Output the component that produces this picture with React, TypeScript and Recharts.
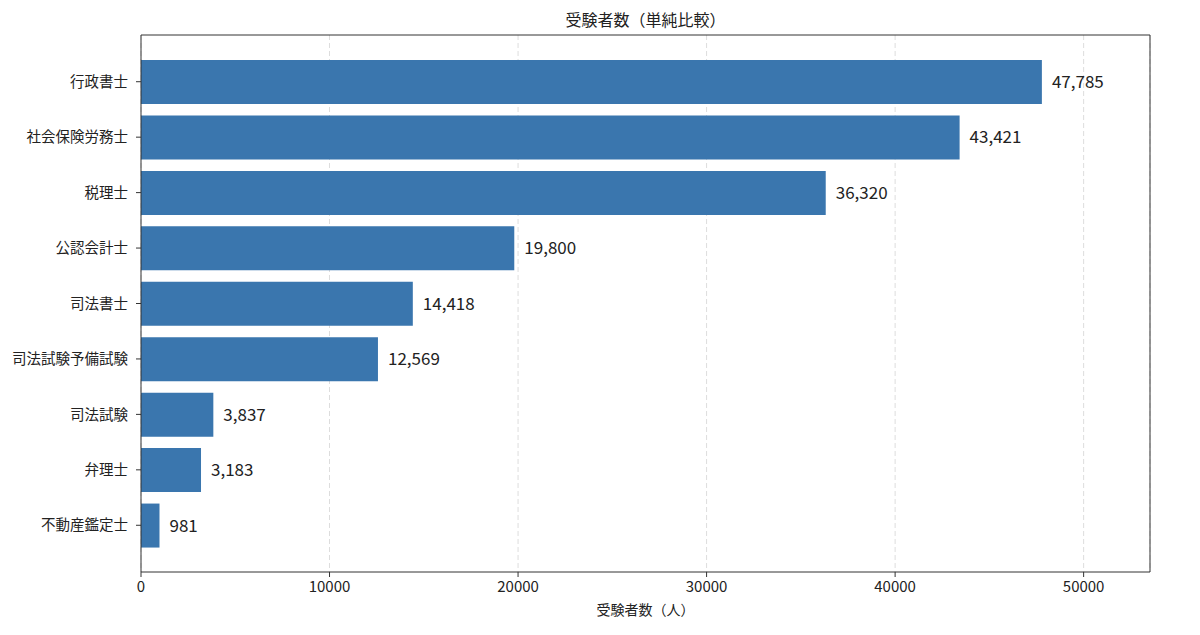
import React from 'react';
import { BarChart, Bar, XAxis, YAxis, CartesianGrid, LabelList } from 'recharts';

const categories = ['行政書士', '社会保険労務士', '税理士', '公認会計士', '司法書士', '司法試験予備試験', '司法試験', '弁理士', '不動産鑑定士'];
const examinees = [47785, 43421, 36320, 19800, 14418, 12569, 3837, 3183, 981];
const xTicks = [0, 10000, 20000, 30000, 40000, 50000];

const data = categories.map((name, i) => ({ name, value: examinees[i] }));

const FONT = '"Noto Sans CJK JP", "Noto Sans", sans-serif';
const AXIS = '#333';

const App = () => {
  return (
    <div style={{ width: 1184, height: 620, fontFamily: FONT }}>
      <BarChart
        width={1184}
        height={620}
        data={data}
        layout="vertical"
        margin={{ top: 0, right: 41, left: 0, bottom: 0 }}
      >
        <CartesianGrid horizontal={false} stroke="#dddddd" strokeDasharray="5 3" />
        <XAxis
          type="number"
          domain={[0, 53520]}
          ticks={xTicks}
          allowDataOverflow
          height={56}
          tickSize={5}
          tickMargin={4}
          stroke={AXIS}
          tick={{ fill: '#222', fontSize: 15, fontFamily: FONT }}
          label={{ value: '受験者数（人）', position: 'insideBottom', offset: 13, fill: '#222', fontSize: 14, fontFamily: FONT }}
        />
        <XAxis
          xAxisId="top"
          orientation="top"
          type="number"
          domain={[0, 1]}
          height={27}
          tick={false}
          tickLine={false}
          stroke={AXIS}
          label={{ value: '受験者数（単純比較）', position: 'center', dy: -1, fill: '#222', fontSize: 16, fontFamily: FONT }}
        />
        <YAxis
          type="category"
          dataKey="name"
          width={133}
          padding={{ top: 19, bottom: 19 }}
          tickSize={5}
          tickMargin={8}
          stroke={AXIS}
          tick={{ fill: '#222', fontSize: 14.5, fontFamily: FONT }}
        />
        <YAxis
          yAxisId="right"
          orientation="right"
          type="number"
          domain={[0, 1]}
          width={1}
          tick={false}
          tickLine={false}
          stroke={AXIS}
        />
        <Bar dataKey="value" fill="#3a76ae" barSize={44} isAnimationActive={false}>
          <LabelList
            dataKey="value"
            position="right"
            offset={10}
            fill="#222"
            fontSize={17}
            fontFamily={FONT}
            formatter={(v: number) => v.toLocaleString('en-US')}
          />
        </Bar>
      </BarChart>
    </div>
  );
};

export default App;
